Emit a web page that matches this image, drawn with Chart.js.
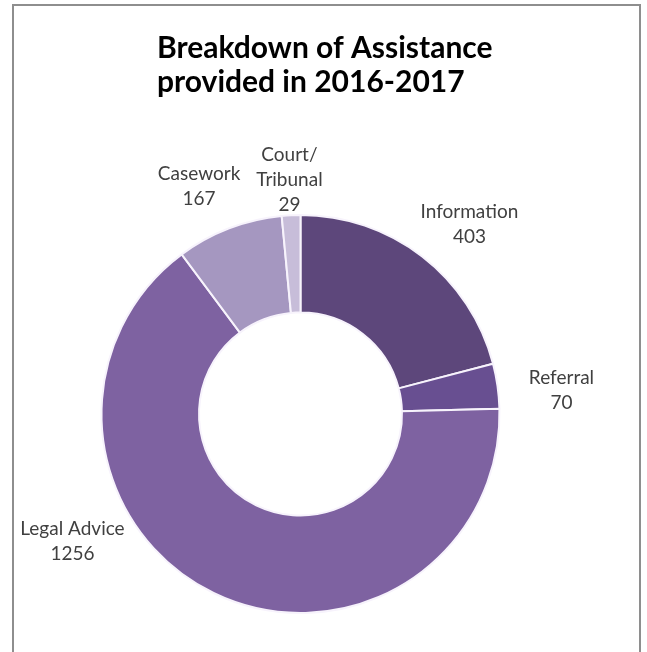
<!DOCTYPE html>
<html>
<head>
<meta charset="utf-8">
<script src="https://cdn.jsdelivr.net/npm/chart.js@4"></script>
<style>
	html, body { margin: 0; padding: 0; background: #fff; overflow: hidden; }
	#frame { position: absolute; left: 12px; top: 4px; width: 629px; height: 700px; border: 2px solid #8e8e8e; box-sizing: border-box; }
	#wrap { position: absolute; left: 0; top: 0; width: 647px; height: 652px; }
</style>
</head>
<body>
<div id="frame"></div>
<div id="wrap"><canvas id="myChart" width="647" height="652"></canvas></div>
<script>
	const titleLines = ["Breakdown of Assistance", "provided in 2016-2017"];
	const categories = [["Information"], ["Referral"], ["Legal Advice"], ["Casework"], ["Court/", "Tribunal"]];
	const values = [403, 70, 1256, 167, 29];
	const colors = ["#5d477b", "#684f91", "#7e62a1", "#a597c0", "#c7bdd9"];

	// nudges for the outside labels: extra angle (deg) from slice middle, distance from centre
	const labelShift = [4, 3, 35, -3, 0];
	const labelDist = [254, 262, 261, 249, 234];

	const labelPlugin = {
		id: "labels",
		afterDraw(chart) {
			const ctx = chart.ctx;
			ctx.save();

			// title
			ctx.fillStyle = "#000";
			ctx.font = "bold 30px Lato";
			ctx.textAlign = "left";
			ctx.textBaseline = "middle";
			titleLines.forEach((line, i) => {
				ctx.fillText(line, 157, 48 + i * 34);
			});

			// data labels
			const meta = chart.getDatasetMeta(0);
			ctx.font = "19px Lato";
			ctx.fillStyle = "#404040";
			ctx.textAlign = "center";
			meta.data.forEach((arc, i) => {
				const mid = (arc.startAngle + arc.endAngle) / 2 + labelShift[i] * Math.PI / 180;
				const cx = arc.x + Math.cos(mid) * labelDist[i];
				const cy = arc.y + Math.sin(mid) * labelDist[i];
				const lines = categories[i].concat([String(values[i])]);
				const lh = 25;
				const top = cy - (lines.length - 1) * lh / 2;
				lines.forEach((t, j) => ctx.fillText(t, cx, top + j * lh));
			});
			ctx.restore();
		},
	};

	const ctx = document.getElementById("myChart").getContext("2d");
	const myChart = new Chart(ctx, {
		type: "doughnut",
		data: {
			labels: categories.map((c) => c.join(" ")),
			datasets: [
				{
					data: values,
					backgroundColor: colors,
					borderColor: "#f7f3fc",
					borderWidth: 2,
				},
			],
		},
		options: {
			responsive: false,
			animation: false,
			cutout: "51%",
			layout: {
				padding: { left: 100, right: 146, top: 214, bottom: 38 },
			},
			plugins: {
				legend: { display: false },
				title: { display: false },
				tooltip: { enabled: false },
			},
			events: [],
		},
		plugins: [labelPlugin],
	});
</script>
</body>
</html>
